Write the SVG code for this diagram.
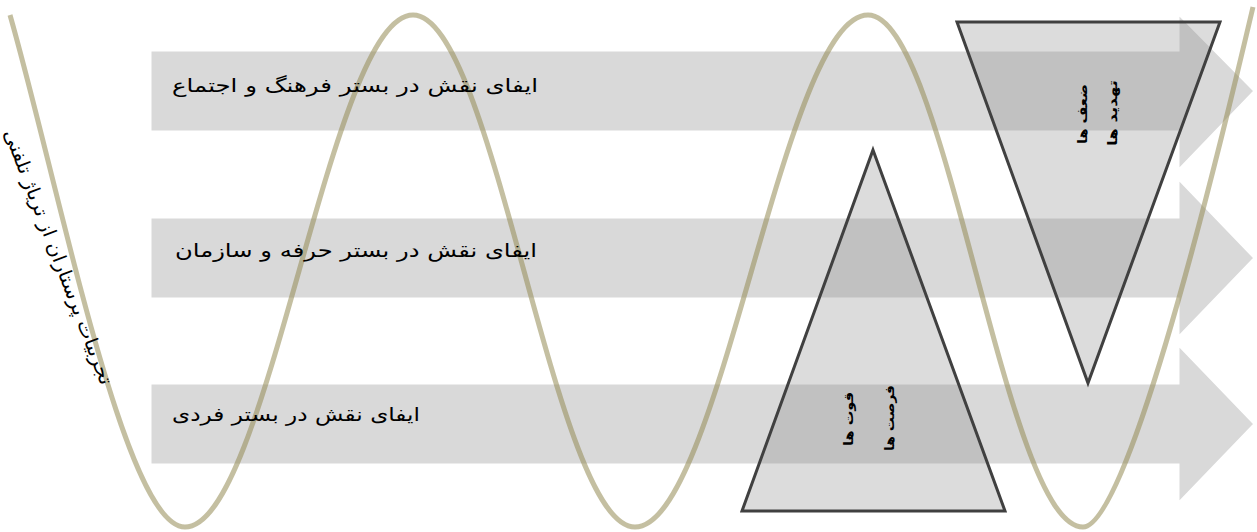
<svg xmlns="http://www.w3.org/2000/svg" width="1257" height="532" viewBox="0 0 1257 532">
<style>
.arrow{fill:#d9d9d9;stroke:#ffffff;stroke-width:3;stroke-linejoin:miter}
.wave{fill:none;stroke:#948a54;stroke-opacity:0.55;stroke-width:5}
.tri{fill:#8c8c8c;fill-opacity:0.3;stroke:#404040;stroke-width:3;stroke-linejoin:miter}
.lbl{font-family:"DejaVu Sans",sans-serif;font-size:19px;fill:#000000}
.vt{font-family:"DejaVu Sans",sans-serif;font-size:13px;fill:#000000;font-weight:bold}
</style>
<rect width="1257" height="532" fill="#ffffff"/>
<g id="arrows">
<g id="arrow1"><path class="arrow" d="M150,50 H1178 V13 L1255,91 L1178,171 V132 H150 Z"/></g>
<g id="arrow2"><path class="arrow" d="M150,217 H1178 V178 L1255,258 L1178,338 V299 H150 Z"/></g>
<g id="arrow3"><path class="arrow" d="M150,383 H1178 V344 L1255,424 L1178,504 V465 H150 Z"/></g>
</g>
<g id="wave">
<path class="wave" d="M10,15 C60,190 125,527 185,527 C268,527 330,15 413,15 C494,15 554,527 635,527 C720,527 783,15 868,15 C946,15 1005,527 1083,527 C1125,527 1206,207 1253,7"/>
</g>
<g id="triangles">
<g id="tri-top"><polygon class="tri" points="957,22 1220,22 1088,383"/></g>
<g id="tri-bottom"><polygon class="tri" points="873,150 1005,511 742,511"/></g>
</g>
<g id="labels">
<g id="label1"><text class="lbl" x="172" y="92" textLength="366" lengthAdjust="spacingAndGlyphs">ایفای نقش در بستر فرهنگ و اجتماع</text></g>
<g id="label2"><text class="lbl" x="175" y="257" textLength="362" lengthAdjust="spacingAndGlyphs">ایفای نقش در بستر حرفه و سازمان</text></g>
<g id="label3"><text class="lbl" x="172" y="421" textLength="248" lengthAdjust="spacingAndGlyphs">ایفای نقش در بستر فردی</text></g>
<g id="side-title"><text class="lbl" transform="translate(58,257) rotate(69)" text-anchor="middle" dy="6" textLength="272" lengthAdjust="spacingAndGlyphs">تجربیات پرستاران از تریاژ تلفنی</text></g>
<g id="tri-top-label">
<text class="vt" transform="translate(1082,114) rotate(-90)" text-anchor="middle" dy="5" textLength="60" lengthAdjust="spacingAndGlyphs">ضعف ها</text>
<text class="vt" transform="translate(1112,113) rotate(-90)" text-anchor="middle" dy="5" textLength="66" lengthAdjust="spacingAndGlyphs">تهدید ها</text>
</g>
<g id="tri-bottom-label">
<text class="vt" transform="translate(848,419) rotate(-90)" text-anchor="middle" dy="5" textLength="54" lengthAdjust="spacingAndGlyphs">قوت ها</text>
<text class="vt" transform="translate(889,418) rotate(-90)" text-anchor="middle" dy="5" textLength="66" lengthAdjust="spacingAndGlyphs">فرصت ها</text>
</g>
</g>
</svg>
